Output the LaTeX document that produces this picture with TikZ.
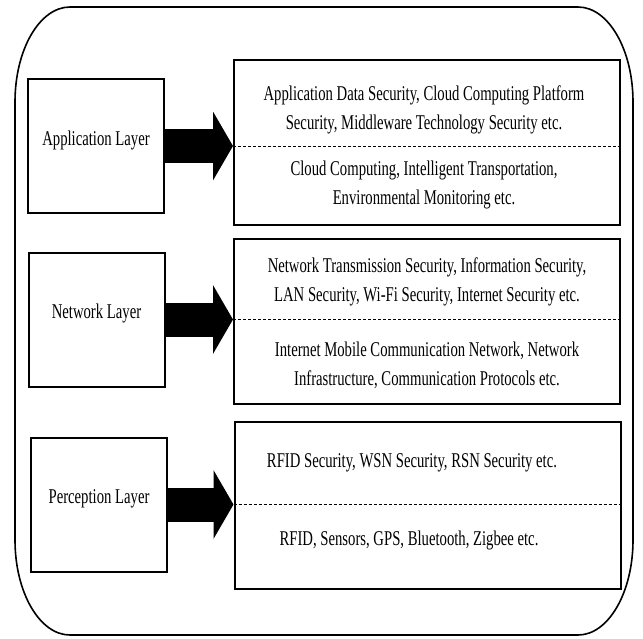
\documentclass[tikz,border=0pt]{standalone}
\usepackage{fontspec}
\setmainfont{Liberation Serif}[FakeStretch=0.7]
\usetikzlibrary{arrows.meta,positioning}

\tikzset{
  layerbox/.style={draw, line width=1pt, minimum width=68pt, minimum height=67pt, inner sep=0pt},
  secbox/.style={draw, line width=1pt, minimum width=193pt, minimum height=82.5pt, inner sep=0pt},
  sectext/.style={align=center, inner sep=0pt, font=\fontsize{10.5}{14.5}\selectfont},
  bigarrow/.style={line width=17pt, -{Triangle[length=10pt, width=34pt]}},
  divider/.style={line width=0.5pt, dash pattern=on 1.5pt off 1pt}
}

\begin{document}
\begin{tikzpicture}[x=0.5pt, y=-0.5pt, font=\fontsize{10.5}{14.5}\selectfont]
			\useasboundingbox (0,0) rectangle (643,638);
			% outer frame
			\draw[line width=0.8pt] (70,7) -- (578,7)
				arc[start angle=90, end angle=0, x radius=27.5pt, y radius=47.5pt] -- (633,540)
				arc[start angle=0, end angle=-90, x radius=27.5pt, y radius=47.5pt] -- (70,635)
				arc[start angle=-90, end angle=-180, x radius=27.5pt, y radius=47.5pt] -- (15,102)
				arc[start angle=180, end angle=90, x radius=27.5pt, y radius=47.5pt] -- cycle;

			% layers
			\node[layerbox, label={[yshift=3pt]center:Application Layer}] (app) at (96,146) {};
			\node[layerbox, label={[yshift=3pt]center:Network Layer}] (net) at (96.5,319.5) {};
			\node[layerbox, label={[yshift=3pt]center:Perception Layer}] (perc) at (99,504.5) {};

			% security / technology boxes
			\node[secbox] (appsec) at (427,142.5) {};
			\node[secbox] (netsec) at (427,321) {};
			\node[secbox, minimum height=83.5pt] (percsec) at (427.5,505.5) {};

			\node[sectext] (appup) at (424,110) {Application Data Security, Cloud Computing Platform\\Security, Middleware Technology Security etc.};
			\node[sectext] (applow) at (424,185) {Cloud Computing, Intelligent Transportation,\\Environmental Monitoring etc.};
			\node[sectext] (netup) at (427,282) {Network Transmission Security, Information Security,\\LAN Security, Wi-Fi Security, Internet Security etc.};
			\node[sectext] (netlow) at (427,365) {Internet Mobile Communication Network, Network\\Infrastructure, Communication Protocols etc.};
			\node[sectext] (percup) at (412,463) {RFID Security, WSN Security, RSN Security etc.};
			\node[sectext] (perclow) at (409,540) {RFID, Sensors, GPS, Bluetooth, Zigbee etc.};

			% dividers
			\draw[divider] (app.east -| appsec.west) -- (app.east -| appsec.east);
			\draw[divider] (net.east -| netsec.west) -- (net.east -| netsec.east);
			\draw[divider] (perc.east -| percsec.west) -- (perc.east -| percsec.east);

			% arrows
			\draw[bigarrow] (app.east) -- (app.east -| appsec.west);
			\draw[bigarrow] (net.east) -- (net.east -| netsec.west);
			\draw[bigarrow] (perc.east) -- (perc.east -| percsec.west);
		\end{tikzpicture}
\end{document}
